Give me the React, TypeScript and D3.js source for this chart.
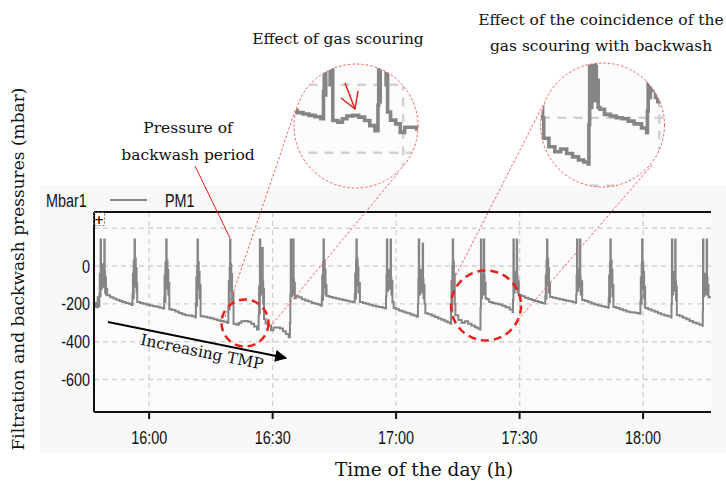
import React from "react";
import * as d3 from "d3";

// ---- data ----
const xTickMinutes = [960, 990, 1020, 1050, 1080];
const xTickLabels = ["16:00", "16:30", "17:00", "17:30", "18:00"];
const yTickValues = [0, -200, -400, -600];
const yTickLabels = ["0", "-200", "-400", "-600"];
const yGridValues = [200, 0, -200, -400, -600];
const unitLabel = "Mbar1";
const seriesName = "PM1";
const xDomain = [946.6, 1096.5];
const yDomain = [-772, 286];

// PM1 pressure (minutes since midnight, mbar)
const pm1Points: [number, number][] = [
  [946.6, -215], [946.9, -195], [947.2, -218], [947.5, -165], [947.7, -212], [947.9, -150],
  [948.0, -40], [948.1, -160], [948.2, 140], [948.3, -20], [948.4, -120], [948.5, 10], [948.6, -90], [948.7, -20], [948.8, -110], [948.9, -30], [949.0, -80], [949.1, 140], [949.2, -30], [949.3, -140], [949.4, -60], [949.5, -150], [949.65, -120],
  [949.8, -155], [950.5, -165], [951.3, -172], [952.0, -178], [952.8, -185], [953.5, -190], [954.3, -195], [955.0, -200], [955.7, -206],
  [955.95, -150], [956.05, -40], [956.15, -170], [956.25, 30], [956.35, -110], [956.45, 140], [956.55, -20], [956.65, 40], [956.75, -100], [956.85, -10], [956.95, -140], [957.0, -90],
  [957.1, -190], [957.8, -195], [958.6, -200], [959.4, -205], [960.2, -208], [961.0, -212], [961.8, -215], [962.6, -220], [963.4, -224],
  [963.65, -170], [963.75, -50], [963.85, -190], [963.95, 20], [964.05, -120], [964.15, 140], [964.25, -30], [964.35, 30], [964.45, -110], [964.55, -20], [964.65, -150], [964.75, -90],
  [964.9, -228], [965.6, -232], [966.4, -240], [967.2, -248], [968.0, -255], [968.8, -260], [969.6, -262], [970.4, -266], [971.2, -272],
  [971.35, -200], [971.45, -60], [971.55, -210], [971.65, 0], [971.75, 140], [971.85, -40], [971.95, 20], [972.05, -120], [972.15, -30], [972.25, -170], [972.35, -100],
  [972.5, -265], [973.3, -268], [974.1, -272], [974.9, -276], [975.7, -282], [976.5, -286], [977.3, -290], [978.1, -294], [978.9, -300],
  [979.25, -220], [979.35, -80], [979.45, -230], [979.55, -10], [979.65, 140], [979.75, -50], [979.85, 10], [979.95, -130], [980.05, -40], [980.15, -200], [980.3, -140],
  [980.5, -305], [981.2, -310], [981.8, -300], [982.4, -292], [983.2, -290], [984.0, -295], [984.8, -305], [985.5, -320], [986.2, -335],
  [986.6, -260], [986.7, -110], [986.8, -250], [986.9, 140], [987.0, -60], [987.1, -150], [987.2, -30], [987.3, -120], [987.4, -40], [987.5, 95], [987.6, -80], [987.7, -200], [987.8, -120], [987.9, -280],
  [988.3, -304], [989.0, -315], [989.6, -340], [990.2, -325], [991.0, -325], [991.8, -330], [992.5, -345], [993.2, -360], [993.9, -376],
  [994.2, -300], [994.3, -150], [994.4, 140], [994.5, -60], [994.6, -160], [994.7, -50], [994.8, -130], [994.9, -40], [995.0, 140], [995.1, -70], [995.2, -150], [995.3, -90], [995.4, -170],
  [995.6, -160], [996.3, -165], [997.1, -175], [997.9, -182], [998.7, -188], [999.5, -195], [1000.3, -200], [1001.1, -205], [1001.8, -210],
  [1001.95, -160], [1002.05, -50], [1002.15, -180], [1002.25, 20], [1002.35, 140], [1002.45, -30], [1002.55, 30], [1002.65, -110], [1002.75, -20], [1002.85, -150], [1002.95, -100],
  [1003.1, -158], [1003.8, -163], [1004.6, -168], [1005.4, -172], [1006.2, -176], [1007.0, -180], [1007.8, -184], [1008.6, -188], [1009.4, -192],
  [1009.95, -150], [1010.05, -40], [1010.15, -170], [1010.25, 30], [1010.35, 140], [1010.45, -20], [1010.55, 40], [1010.65, -100], [1010.75, -10], [1010.85, -140], [1011.0, -90],
  [1011.2, -190], [1011.9, -195], [1012.7, -200], [1013.5, -205], [1014.3, -210], [1015.1, -214], [1015.9, -216], [1016.7, -220], [1017.4, -224],
  [1017.55, -160], [1017.65, -50], [1017.75, 140], [1017.85, -40], [1017.95, -130], [1018.05, -20], [1018.15, -110], [1018.25, -30], [1018.35, -100], [1018.45, -40], [1018.55, -120], [1018.65, 140], [1018.75, -60], [1018.85, -150], [1018.95, -80], [1019.1, -190],
  [1019.4, -222], [1020.0, -228], [1020.7, -235], [1021.4, -240], [1022.1, -245], [1022.8, -250], [1023.5, -256], [1024.2, -262], [1025.0, -268],
  [1025.3, -200], [1025.4, -70], [1025.5, 140], [1025.6, -50], [1025.7, -150], [1025.8, -30], [1025.9, -130], [1026.0, -20], [1026.1, -120], [1026.2, -40], [1026.3, -140], [1026.45, 120], [1026.55, -70], [1026.65, -170], [1026.75, -100], [1026.9, -200],
  [1027.1, -249], [1027.8, -255], [1028.6, -262], [1029.4, -270], [1030.2, -278], [1031.0, -284], [1031.8, -292], [1032.5, -298], [1033.2, -305],
  [1033.35, -230], [1033.45, -80], [1033.55, -240], [1033.65, 0], [1033.75, 140], [1033.85, -40], [1033.95, 20], [1034.05, -130], [1034.15, -40], [1034.25, -200],
  [1034.4, -260], [1035.1, -285], [1035.9, -300], [1036.7, -292], [1037.5, -305], [1038.3, -315], [1039.1, -324], [1039.8, -330], [1040.4, -336],
  [1040.5, -220], [1040.6, 140], [1040.7, -60], [1040.8, -170], [1040.9, -50], [1041.0, -150], [1041.1, -40], [1041.2, -130], [1041.3, 140], [1041.4, -50], [1041.5, -150], [1041.6, -90], [1041.75, -170],
  [1042.0, -175], [1042.6, -190], [1043.4, -195], [1044.2, -200], [1045.0, -203], [1045.8, -210], [1046.6, -218], [1047.6, -230], [1048.3, -244],
  [1048.4, -180], [1048.5, 140], [1048.6, -40], [1048.7, -140], [1048.8, -30], [1048.9, -120], [1049.0, -40], [1049.1, -110], [1049.2, -50], [1049.3, 140], [1049.4, -50], [1049.5, -140], [1049.6, -80],
  [1049.8, -153], [1050.5, -160], [1051.3, -168], [1052.1, -174], [1052.9, -180], [1053.7, -185], [1054.5, -190], [1055.3, -195], [1056.0, -198],
  [1056.25, -160], [1056.35, -50], [1056.45, -170], [1056.55, 30], [1056.65, 140], [1056.75, -20], [1056.85, 40], [1056.95, -100], [1057.05, -10], [1057.15, -140], [1057.25, -90],
  [1057.4, -164], [1058.1, -168], [1058.9, -172], [1059.7, -176], [1060.5, -180], [1061.3, -183], [1062.1, -186], [1062.9, -190], [1063.6, -194],
  [1063.75, -150], [1063.85, -50], [1063.95, 140], [1064.05, -40], [1064.15, -130], [1064.25, -20], [1064.35, -110], [1064.45, -30], [1064.55, -100], [1064.65, 140], [1064.75, -60], [1064.85, -150], [1064.95, -80],
  [1065.2, -180], [1065.9, -185], [1066.7, -192], [1067.5, -198], [1068.3, -203], [1069.1, -208], [1069.9, -212], [1070.7, -216], [1071.5, -220],
  [1071.65, -170], [1071.75, -50], [1071.85, -190], [1071.95, 20], [1072.05, 140], [1072.15, -30], [1072.25, 30], [1072.35, -110], [1072.45, -20], [1072.55, -160], [1072.65, -100],
  [1072.8, -217], [1073.5, -222], [1074.3, -228], [1075.1, -234], [1075.9, -240], [1076.7, -244], [1077.5, -246], [1078.3, -248], [1079.1, -252],
  [1079.35, -190], [1079.45, -60], [1079.55, -200], [1079.65, 10], [1079.75, 140], [1079.85, -30], [1079.95, 20], [1080.05, -120], [1080.15, -30], [1080.25, -170], [1080.35, -110],
  [1080.5, -222], [1081.2, -228], [1082.0, -235], [1082.8, -242], [1083.6, -250], [1084.4, -256], [1085.2, -262], [1086.0, -266], [1086.8, -272],
  [1086.9, -200], [1087.0, 140], [1087.1, -50], [1087.2, -150], [1087.3, -30], [1087.4, -130], [1087.5, -40], [1087.6, -120], [1087.7, -60], [1087.8, 140], [1087.9, -80], [1088.0, -180], [1088.1, -110],
  [1088.2, -259], [1088.9, -266], [1089.7, -274], [1090.5, -282], [1091.3, -290], [1092.1, -298], [1092.9, -304], [1093.7, -310], [1094.4, -316],
  [1094.5, -240], [1094.55, 140], [1094.65, -60], [1094.75, -160], [1094.85, -40], [1094.95, -140], [1095.05, -50], [1095.15, -130], [1095.25, -60], [1095.35, -150], [1095.45, 140], [1095.55, -60], [1095.65, -150], [1095.75, -100],
  [1095.9, -165], [1096.5, -165],
];

// ---- layout ----
const W = 726, H = 488;
const plot = { left: 94, right: 711, top: 212, bottom: 412 };
const serif = "'DejaVu Serif', serif";
const sans = "'Liberation Sans', Arial, sans-serif";

const x = d3.scaleLinear().domain(xDomain).range([plot.left, plot.right]);
const y = d3.scaleLinear().domain(yDomain).range([plot.bottom, plot.top]);
const linePath = d3
  .line<[number, number]>()
  .x((d) => x(d[0]))
  .y((d) => y(d[1]))
  .curve(d3.curveStepAfter)(pm1Points) as string;

function PlotContent() {
  return (
    <g clipPath="url(#plotClip)">
      {yGridValues.map((v) => (
        <line key={"h" + v} x1={plot.left} x2={plot.right} y1={y(v)} y2={y(v)}
          stroke="#d2d2d2" strokeWidth={1.4} strokeDasharray="5,4" />
      ))}
      {xTickMinutes.map((m) => (
        <line key={"v" + m} x1={x(m)} x2={x(m)} y1={plot.top} y2={plot.bottom}
          stroke="#d2d2d2" strokeWidth={1.4} strokeDasharray="5,4" />
      ))}
      <path d={linePath} fill="none" stroke="#858585" strokeWidth={2} />
    </g>
  );
}

function NarrowText(props: { x: number; y: number; anchor: string; children: string }) {
  return (
    <text transform={`translate(${props.x},${props.y}) scale(0.8,1)`} textAnchor={props.anchor}
      fontFamily={sans} fontSize={18} fill="#111">
      {props.children}
    </text>
  );
}

const magnifiers = [
  { id: "mag1", cx: 356, cy: 126, r: 62, k: 1.8, tx: -87.6, ty: -462.2 },
  { id: "mag2", cx: 602.5, cy: 125, r: 62, k: 1.8, tx: -276, ty: -429.2 },
];
const smallCircles = [
  { cx: 245, cy: 323, r: 23.5 },
  { cx: 486, cy: 305.5, r: 35 },
];
const connectors: [number, number, number, number][] = [
  [225, 317, 296, 108],
  [270, 327, 398, 173],
  [452, 283, 543, 105],
  [518, 320, 652, 165],
];

export default function App() {
  const red = "#e8201a";
  const dotted = "#f06060";
  return (
    <svg width={W} height={H} viewBox={`0 0 ${W} ${H}`}
      style={{ position: "absolute", left: 0, top: 0, display: "block", background: "#fff" }}>
      <defs>
        <clipPath id="plotClip">
          <rect x={plot.left} y={plot.top} width={plot.right - plot.left} height={plot.bottom - plot.top} />
        </clipPath>
        {magnifiers.map((m) => (
          <clipPath key={m.id} id={m.id + "clip"}>
            <circle cx={m.cx} cy={m.cy} r={m.r} />
          </clipPath>
        ))}
        <marker id="tmpArrow" viewBox="0 0 10 10" refX={9} refY={5} markerWidth={8} markerHeight={6}
          orient="auto" markerUnits="strokeWidth">
          <path d="M0,0 L10,5 L0,10 z" fill="#000" />
        </marker>
      </defs>

      {/* screenshot background */}
      <rect x={40} y={185} width={686} height={268} fill="#f8f8f8" />
      <rect x={plot.left} y={plot.top} width={plot.right - plot.left} height={plot.bottom - plot.top} fill="#fbfbfb" />

      <PlotContent />

      {/* axes frame */}
      <line x1={plot.left} x2={plot.right} y1={plot.top} y2={plot.top} stroke="#111" strokeWidth={2} />
      <line x1={plot.left} x2={plot.right} y1={plot.bottom} y2={plot.bottom} stroke="#111" strokeWidth={2} />
      <line x1={plot.left} x2={plot.left} y1={plot.top} y2={plot.bottom} stroke="#111" strokeWidth={2} />
      {xTickMinutes.map((m, i) => (
        <g key={"xt" + m}>
          <line x1={x(m)} x2={x(m)} y1={plot.bottom} y2={plot.bottom + 7} stroke="#111" strokeWidth={2} />
          <NarrowText x={x(m)} y={444} anchor="middle">{xTickLabels[i]}</NarrowText>
        </g>
      ))}
      {yTickValues.map((v, i) => (
        <NarrowText key={"yt" + v} x={90} y={y(v) + 6.5} anchor="end">{yTickLabels[i]}</NarrowText>
      ))}
      {/* corner marker */}
      <rect x={93.5} y={212.5} width={11} height={13} fill="none" stroke="#777" strokeWidth={1} strokeDasharray="2,2" />
      <text x={99} y={224} textAnchor="middle" fontFamily="'DejaVu Sans', sans-serif" fontSize={12} fontWeight="bold" fill="#111">+</text>

      {/* legend */}
      <NarrowText x={46} y={207} anchor="start">{unitLabel}</NarrowText>
      <line x1={110} x2={147} y1={200} y2={200} stroke="#858585" strokeWidth={2} />
      <NarrowText x={165} y={207} anchor="start">{seriesName}</NarrowText>

      {/* axis titles */}
      <text x={424} y={476} textAnchor="middle" fontFamily={serif} fontSize={18.5} fill="#111">Time of the day (h)</text>
      <text transform="translate(24,269) rotate(-90)" textAnchor="middle" fontFamily={serif} fontSize={17} fill="#111">
        Filtration and backwash pressures (mbar)
      </text>

      {/* increasing TMP arrow */}
      <line x1={108} y1={322} x2={286} y2={358} stroke="#000" strokeWidth={2} markerEnd="url(#tmpArrow)" />
      <text transform="translate(201,357) rotate(11.5)" textAnchor="middle" fontFamily={serif} fontSize={15.5} fill="#111">
        Increasing TMP
      </text>

      {/* small dashed circles */}
      {smallCircles.map((c, i) => (
        <circle key={"sc" + i} cx={c.cx} cy={c.cy} r={c.r} fill="none" stroke={red} strokeWidth={2.5} strokeDasharray="8,5" />
      ))}

      {/* connector lines */}
      {connectors.map((c, i) => (
        <line key={"cn" + i} x1={c[0]} y1={c[1]} x2={c[2]} y2={c[3]} stroke={dotted} strokeWidth={1} strokeDasharray="2.5,2" />
      ))}

      {/* magnified insets */}
      {magnifiers.map((m) => (
        <g key={m.id}>
          <circle cx={m.cx} cy={m.cy} r={m.r} fill="#fcfcfc" />
          <g clipPath={`url(#${m.id}clip)`}>
            <g transform={`matrix(${m.k} 0 0 ${m.k} ${m.tx} ${m.ty})`}>
              <PlotContent />
            </g>
          </g>
          <circle cx={m.cx} cy={m.cy} r={m.r} fill="none" stroke={dotted} strokeWidth={1} strokeDasharray="2.5,2" />
        </g>
      ))}

      {/* gas scouring arrow */}
      <g stroke={red} strokeWidth={1.5} fill="none">
        <line x1={345} y1={83} x2={355} y2={109} />
        <polyline points="341,98 355,109 358,91" />
      </g>

      {/* pointer for backwash pressure */}
      <line x1={195} y1={166} x2={230} y2={238} stroke={red} strokeWidth={1} />

      {/* annotations */}
      <text x={338} y={44} textAnchor="middle" fontFamily={serif} fontSize={15.5} fill="#111">Effect of gas scouring</text>
      <text x={601} y={25} textAnchor="middle" fontFamily={serif} fontSize={15.5} fill="#111">Effect of the coincidence of the</text>
      <text x={601} y={51} textAnchor="middle" fontFamily={serif} fontSize={15.5} fill="#111">gas scouring with backwash</text>
      <text x={188} y={133} textAnchor="middle" fontFamily={serif} fontSize={15.5} fill="#111">Pressure of</text>
      <text x={188} y={160} textAnchor="middle" fontFamily={serif} fontSize={15.5} fill="#111">backwash period</text>
    </svg>
  );
}
